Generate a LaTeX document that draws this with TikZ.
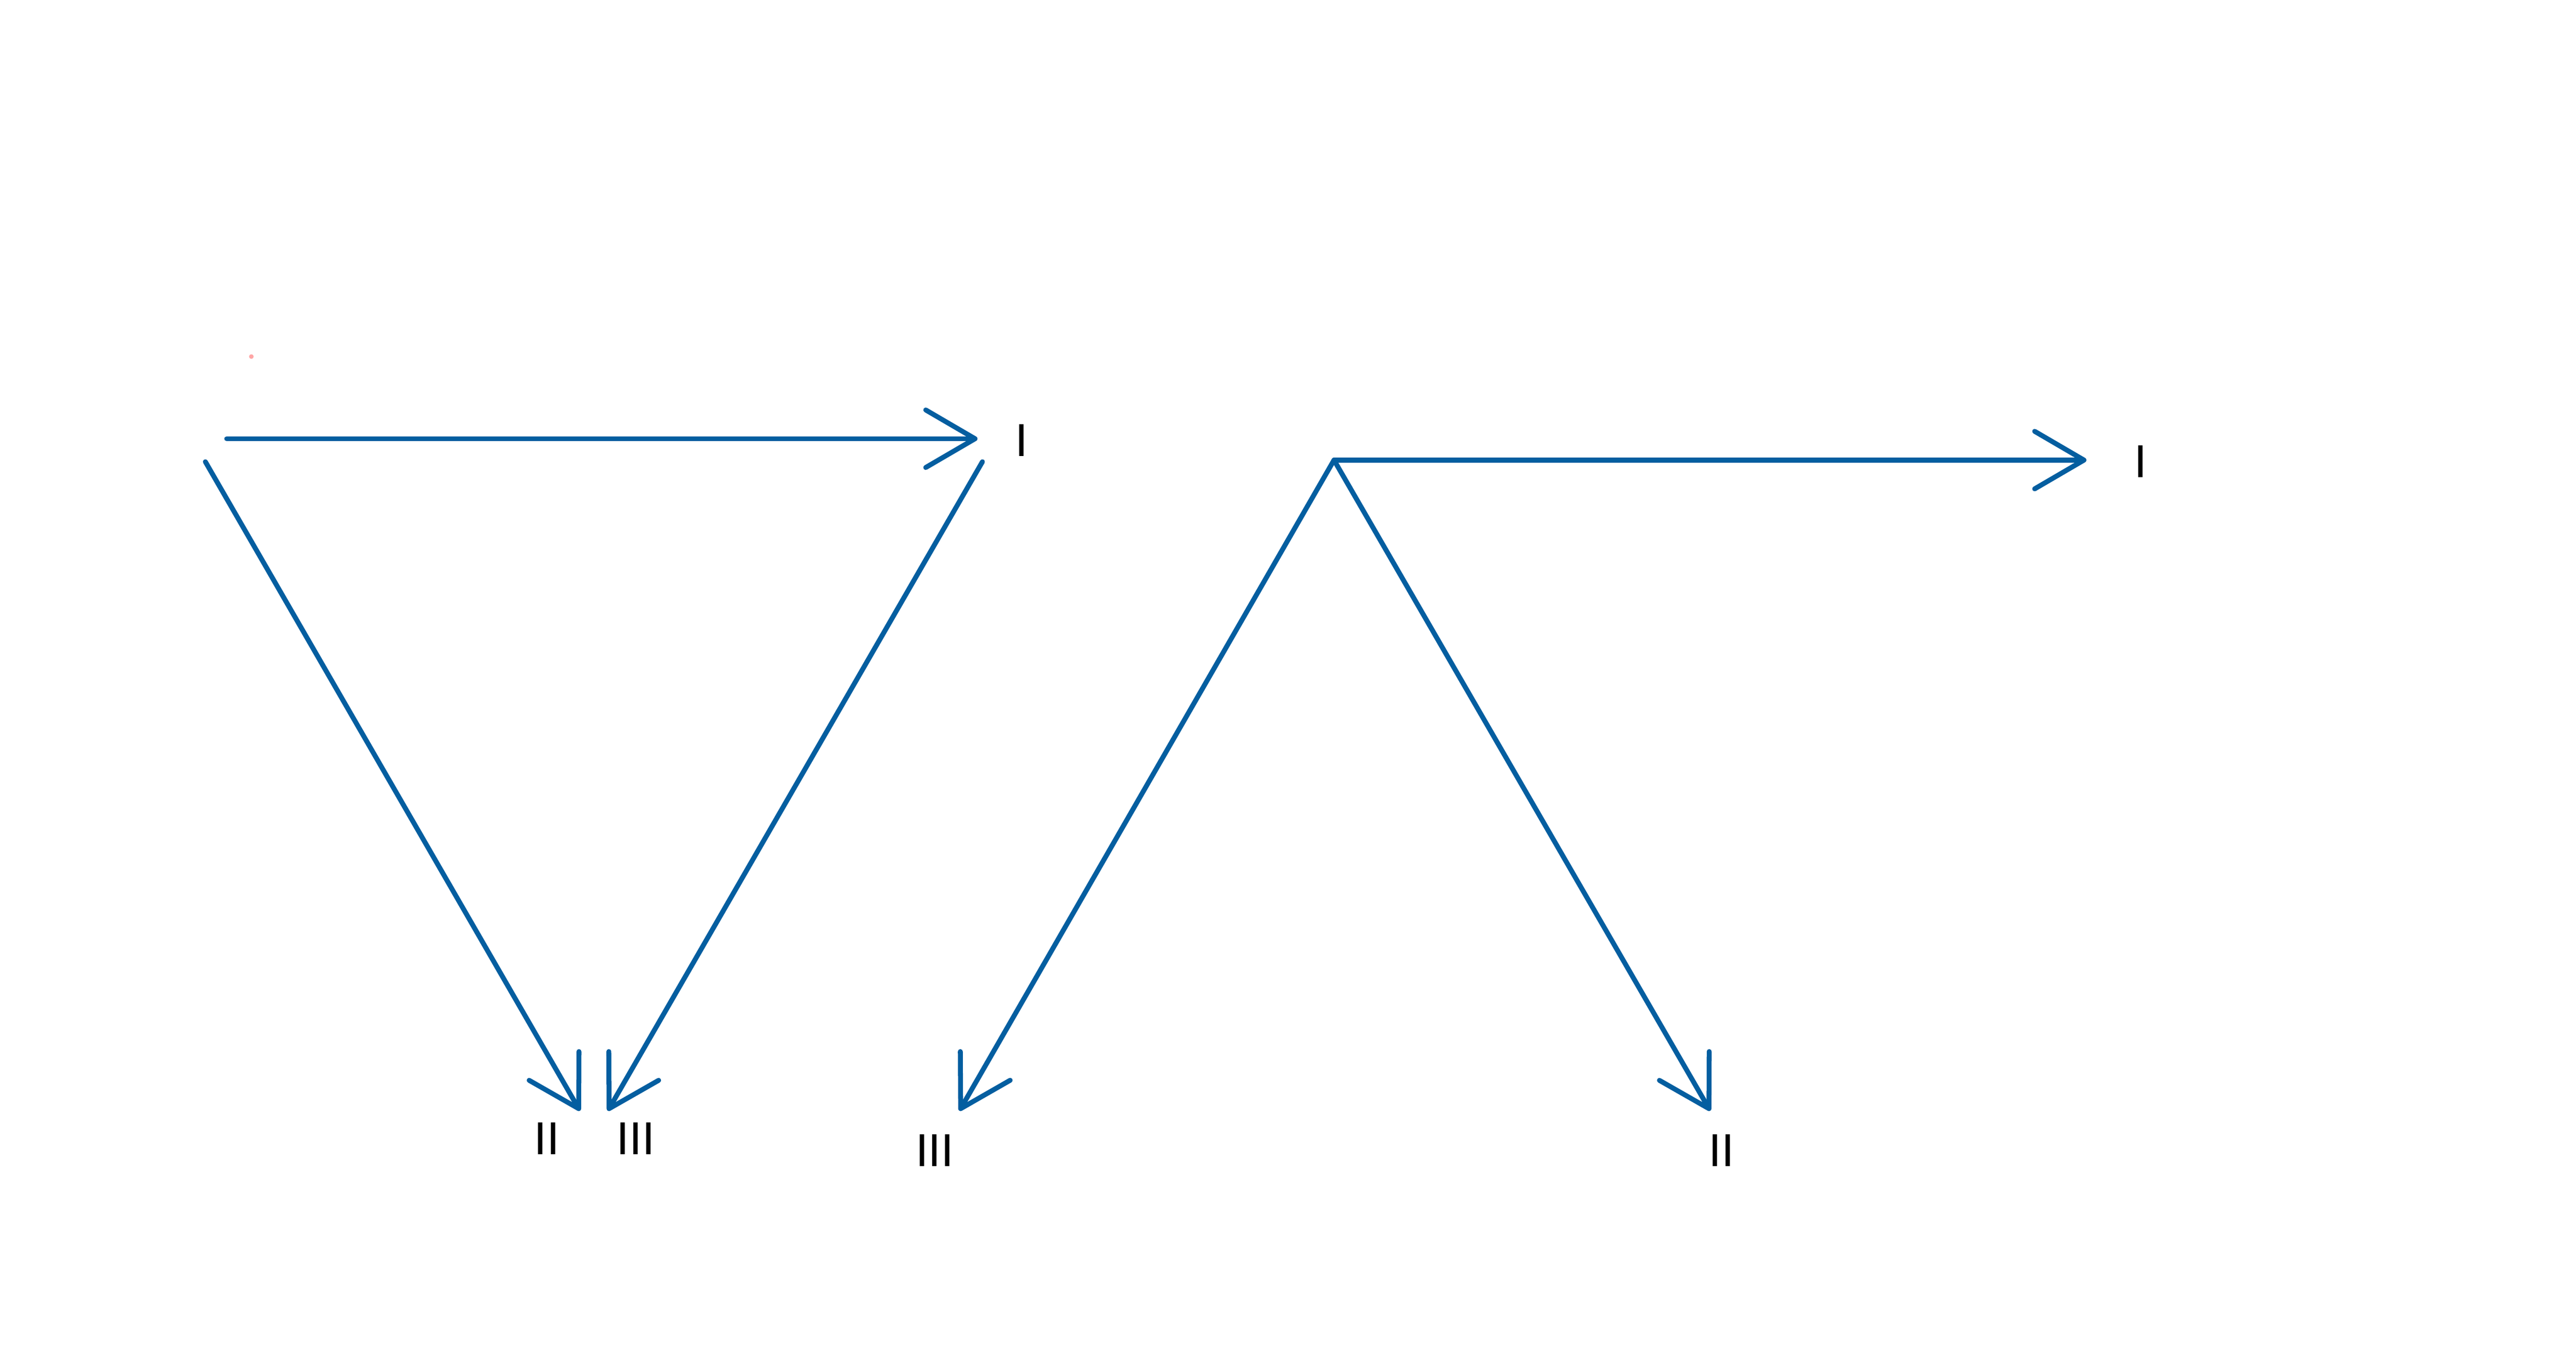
\documentclass[tikz,border=0pt]{standalone}
\usepackage{fontspec}
\setmainfont{Liberation Sans}
\usetikzlibrary{positioning, arrows.meta}
\definecolor{vecblue}{RGB}{4,94,160}

\begin{document}
\begin{tikzpicture}[x=0.01cm, y=-0.01cm, >={Straight Barb[length=0.3cm, width=0.35cm, round]},
    vec/.style = {->, draw=vecblue, line width=0.85pt, line cap=round},
    lbl/.style = {inner sep=0pt, font=\fontsize{8}{8}\selectfont}]
  \useasboundingbox (0,0) rectangle (1568,830.7);

  % left: triangle of three vectors
  \coordinate (a1) at (138,267);
  \coordinate (a2) at (595,267);
  \coordinate (b1) at (125,281);
  \coordinate (b2) at (353,676);
  \coordinate (c1) at (598,281);
  \coordinate (c2) at (370,676);
  \node[lbl] (aI)   at (622,268) {I};
  \node[lbl] (bII)  at (333,693) {II};
  \node[lbl] (cIII) at (387,693) {III};
  \fill[red!35] (153,217) circle[radius=0.4pt];

  % right: three vectors from one point
  \coordinate (o) at (812,280);
  \coordinate (d2) at (1270,280);
  \coordinate (e2) at (584,676);
  \coordinate (f2) at (1041,676);
  \node[lbl] (dI)   at (1303,281) {I};
  \node[lbl] (eIII) at (569,700) {III};
  \node[lbl] (fII)  at (1048,700) {II};

  \draw[vec] (a1) -- (a2);
  \draw[vec] (b1) -- (b2);
  \draw[vec] (c1) -- (c2);
  \draw[vec] (o) -- (d2);
  \draw[vec] (o) -- (e2);
  \draw[vec] (o) -- (f2);
\end{tikzpicture}
\end{document}
